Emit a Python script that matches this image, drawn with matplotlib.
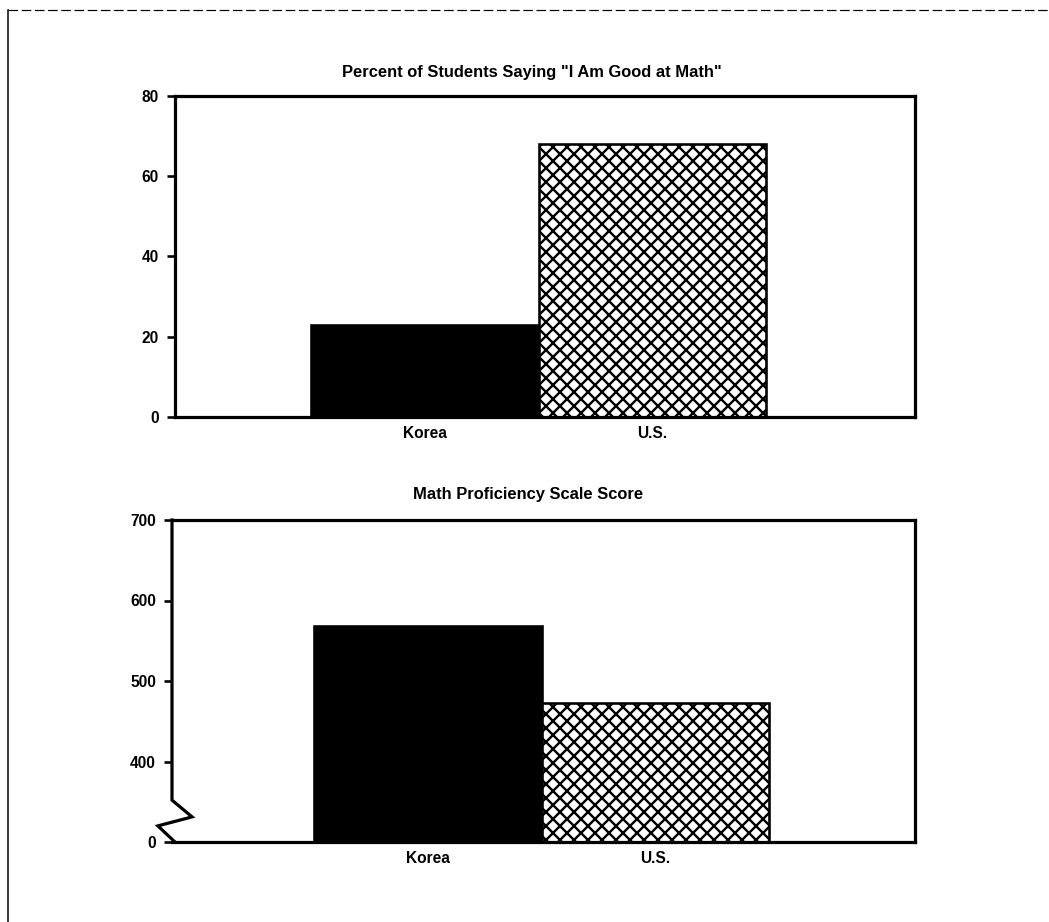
import matplotlib
matplotlib.use('Agg')
import matplotlib.pyplot as plt
from matplotlib.lines import Line2D

# ---- data ----
countries = ['Korea', 'U.S.']
good_at_math_pct = [23, 68]
proficiency_score = [568, 473]
top_title = 'Percent of Students Saying "I Am Good at Math"'
bottom_title = 'Math Proficiency Scale Score'
top_ticks = [0, 20, 40, 60, 80]
top_tick_labels = ['0', '20', '40', '60', '80']
bottom_ticks = [300, 400, 500, 600, 700]
bottom_tick_labels = ['0', '400', '500', '600', '700']

W, H = 1049, 922
DPI = 84


def pt(px):
    return px * 72.0 / DPI


plt.rcParams['font.family'] = ['Liberation Sans', 'DejaVu Sans']
plt.rcParams['hatch.linewidth'] = pt(2.4)
plt.rcParams['hatch.color'] = 'black'

fig = plt.figure(figsize=(W / DPI, H / DPI), dpi=DPI)


def axes_px(l, r, t, b):
    return fig.add_axes([l / W, 1 - b / H, (r - l) / W, (b - t) / H])


ax1 = axes_px(175, 915, 96, 417)
ax2 = axes_px(172, 915, 520, 842)

faces = ['black', 'white']
hatches = [None, 'xx']


def draw(ax, vals, ylim, ticks, ticklabels, xlim):
    for i, v in enumerate(vals):
        ax.bar(i, v - ylim[0], bottom=ylim[0], width=1.0, color=faces[i],
               edgecolor='black', linewidth=pt(2.6), hatch=hatches[i], zorder=2)
    ax.set_ylim(*ylim)
    ax.set_xlim(*xlim)
    ax.set_yticks(ticks)
    ax.set_yticklabels(ticklabels, fontsize=pt(15.5), fontweight='bold')
    ax.set_xticks(range(len(countries)))
    ax.set_xticklabels(countries, fontsize=pt(15.5), fontweight='bold')
    ax.tick_params(axis='y', length=pt(8), width=pt(2.6), pad=pt(8), direction='out')
    ax.tick_params(axis='x', length=0, pad=pt(9))
    for s in ax.spines.values():
        s.set_linewidth(pt(3.2))


draw(ax1, good_at_math_pct, (0, 80), top_ticks, top_tick_labels, (-1.10, 2.154))
draw(ax2, proficiency_score, (300, 700), bottom_ticks, bottom_tick_labels, (-1.125, 2.14))

fig.text(532 / W, 1 - 72 / H, top_title, ha='center', va='center',
         fontsize=pt(16.5), fontweight='bold')
fig.text(528 / W, 1 - 495 / H, bottom_title, ha='center', va='center',
         fontsize=pt(16.5), fontweight='bold')

# broken axis zig-zag on lower panel
ax2.spines['left'].set_visible(False)
zx = [0, 0, 0.027, -0.019, 0.004]
zy = [1, 0.130, 0.078, 0.050, 0]
ax2.add_line(Line2D(zx, zy, transform=ax2.transAxes, color='black',
                    linewidth=pt(3.2), clip_on=False, solid_joinstyle='miter'))

# scanned page border (left and top)
fig.add_artist(Line2D([8 / W, 8 / W], [0, 1 - 10 / H], transform=fig.transFigure,
                      color='black', linewidth=pt(1.5)))
fig.add_artist(Line2D([8 / W, 1], [1 - 10 / H, 1 - 10 / H], transform=fig.transFigure,
                      color='black', linewidth=pt(1.2), linestyle=(0, (8, 3))))

fig.savefig('out.png', dpi=DPI, facecolor='white')
